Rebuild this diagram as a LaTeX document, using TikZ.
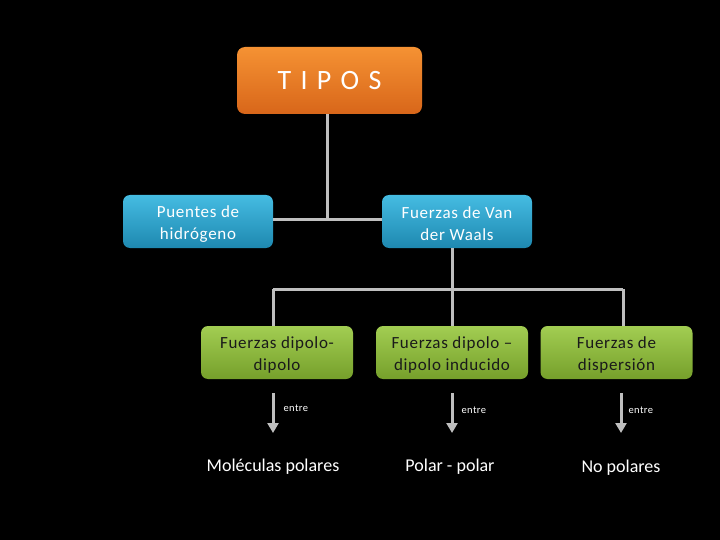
\documentclass[tikz,border=0pt]{standalone}
\usepackage{fontspec}
\setmainfont{Carlito}
\newfontfamily\spacedfont[LetterSpace=4]{Carlito}
\usetikzlibrary{arrows.meta}
\definecolor{lineg}{HTML}{BFBFBF}
\definecolor{orT}{HTML}{F59233}
\definecolor{orB}{HTML}{D8661A}
\definecolor{blT}{HTML}{45BCE2}
\definecolor{blB}{HTML}{1E88B0}
\definecolor{grT}{HTML}{A2CD52}
\definecolor{grB}{HTML}{76A02B}
\definecolor{txtdark}{HTML}{1A1A1A}
\newcommand{\tstrut}{\rule{0pt}{17pt}}
\tikzset{
  x=1pt,y=-1pt,
  boxbase/.style={rounded corners=7pt, minimum width=150pt, minimum height=53pt, align=center, inner sep=2pt, font=\spacedfont\fontsize{17}{22}\selectfont},
  bluebox/.style={boxbase, top color=blT, bottom color=blB, text=white},
  greenbox/.style={boxbase, minimum width=152pt, top color=grT, bottom color=grB, text=txtdark},
  conn/.style={draw=lineg, line width=3pt},
  arr/.style={draw=lineg, line width=3pt, -{Triangle[width=11pt,length=10pt]}},
  smalllbl/.style={text=white, font=\spacedfont\fontsize{10.5}{12}\selectfont, anchor=west},
  bottomlbl/.style={text=white, font=\fontsize{18}{21}\selectfont}
}
\begin{document}
\begin{tikzpicture}
\fill[black] (0,0) rectangle (720,540);
\useasboundingbox (0,0) rectangle (720,540);

\node[rounded corners=8pt, minimum width=185pt, minimum height=67pt, top color=orT, bottom color=orB, text=white, font=\fontsize{28}{30}\selectfont] (tipos) at (329.5,80.5) {T\,\,I\,\,P\,\,O\,\,S};

\node[bluebox] (puentes) at (198,221.5) {\tstrut Puentes de\\hidrógeno};
\node[bluebox] (vdw) at (457,221.5) {\tstrut Fuerzas de Van\\der Waals};

\node[greenbox] (dd) at (277,352.5) {\tstrut Fuerzas dipolo-\\dipolo};
\node[greenbox] (ddi) at (452,352.5) {\tstrut Fuerzas dipolo –\\dipolo inducido};
\node[greenbox] (disp) at (616.5,352.5) {\tstrut Fuerzas de\\dispersión};

\coordinate (t1) at (327,114);
\coordinate (t2) at (327,220);
\draw[conn] (t1) -- (t2);
\draw[conn] (puentes.east |- t2) -- (vdw.west |- t2);

\coordinate (v1) at (452,248);
\coordinate (v2) at (452,289);
\coordinate (h1) at (273,289);
\coordinate (h3) at (623,289);
\draw[conn] (v1) -- (v2);
\draw[conn] (h1) -- (h3);
\draw[conn] (h1) -- (273,326);
\draw[conn] (v2) -- (ddi.north);
\draw[conn] (h3) -- (623,326);

\node[bottomlbl] (mp) at (273,467) {Moléculas polares};
\node[bottomlbl] (pp) at (450,467) {Polar - polar};
\node[bottomlbl] (np) at (621,468) {No polares};

\coordinate (a1s) at (273,393); \coordinate (a1e) at (273,433);
\coordinate (a2s) at (452,393); \coordinate (a2e) at (452,433);
\coordinate (a3s) at (621,393); \coordinate (a3e) at (621,433);
\draw[arr] (a1s) -- (a1e);
\draw[arr] (a2s) -- (a2e);
\draw[arr] (a3s) -- (a3e);

\node[smalllbl] (e1) at (280,408) {entre};
\node[smalllbl] (e2) at (458,410) {entre};
\node[smalllbl] (e3) at (625,410) {entre};
\end{tikzpicture}
\end{document}
